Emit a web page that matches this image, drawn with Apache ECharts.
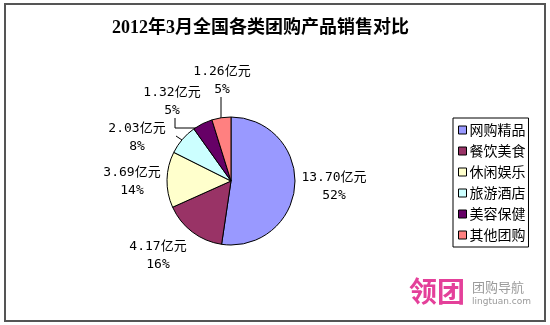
<!DOCTYPE html>
<html><head><meta charset="utf-8">
<script src="https://cdn.jsdelivr.net/npm/echarts@6/dist/echarts.min.js"></script>
<style>html,body{margin:0;padding:0;background:#fff}#c{width:550px;height:325px}</style>
</head><body><div id="c"></div>
<script>
const categories = ['网购精品','餐饮美食','休闲娱乐','旅游酒店','美容保健','其他团购'];
const values = [13.70, 4.17, 3.69, 2.03, 1.32, 1.26];
const colors = ['#9999FF','#993366','#FFFFCC','#CCFFFF','#660066','#FF8080'];
const titleText = '2012年3月全国各类团购产品销售对比';

// label placement (styling only)
const labelPos = [[334,187],[158,256],[132,182],[137,138],[172,102],[222,81]];
const linePts = {
  3: [[182,140],[179,138],[176,136]],
  4: [[199,128],[175,128],[175,118]],
  5: [[221,118],[221,108],[221,97]]
};

const chart = echarts.init(document.getElementById('c'), null, {renderer:'canvas'});
const lblFont = 'DejaVu Sans Mono, Noto Sans CJK SC';
chart.setOption({
  animation: false,
  title: {
    text: titleText, left: 107, top: 14,
    textStyle: {fontSize: 18, fontWeight: 'bold', color: '#000', fontFamily: 'Liberation Serif, Noto Sans CJK SC'}
  },
  legend: {
    orient: 'vertical', left: 453, top: 118,
    data: categories,
    itemWidth: 8, itemHeight: 8, itemGap: 7,
    icon: 'rect',
    borderColor: '#000', borderWidth: 1,
    padding: [5, 3, 5, 5],
    itemStyle: {borderColor: '#000', borderWidth: 1},
    textStyle: {fontSize: 14, color: '#000', fontFamily: 'Noto Sans CJK SC', padding: [0,0,0,-2], lineHeight: 14}
  },
  graphic: [
    {type:'rect', shape:{x:5,y:4,width:540,height:317}, style:{fill:'none', stroke:'#555', lineWidth:2}, z: 100},
    {type:'text', left: 409, top: 277, style:{text:'领团', fontSize: 28, fontWeight:'bold', fill:'#e4409a', fontFamily:'Noto Sans CJK SC'}},
    {type:'text', left: 472, top: 281, style:{text:'团购导航', fontSize: 13, fill:'#9a9a9a', fontFamily:'Noto Sans CJK SC'}},
    {type:'text', left: 472, top: 297, style:{text:'lingtuan.com', fontSize: 9, fill:'#9a9a9a', fontFamily:'DejaVu Sans'}}
  ],
  series: [{
    type: 'pie',
    center: [231, 181],
    radius: 64,
    startAngle: 90,
    clockwise: true,
    percentPrecision: 0,
    data: categories.map((n, i) => ({
      name: n, value: values[i],
      itemStyle: {color: colors[i]},
      labelLine: {show: !!linePts[i]}
    })),
    itemStyle: {borderColor: '#000', borderWidth: 1},
    label: {
      show: true, position: 'outside',
      formatter: p => p.value.toFixed(2) + '亿元\n' + p.percent + '%',
      fontSize: 13, lineHeight: 18, color: '#000', fontFamily: lblFont, align: 'center'
    },
    labelLine: {lineStyle: {color: '#000', width: 1}, length: 5, length2: 5},
    labelLayout: function (params) {
      const i = params.dataIndex;
      const r = {x: labelPos[i][0], y: labelPos[i][1], align: 'center', verticalAlign: 'middle'};
      if (linePts[i]) r.labelLinePoints = linePts[i];
      return r;
    },
    emphasis: {disabled: true}
  }]
});
</script></body></html>
